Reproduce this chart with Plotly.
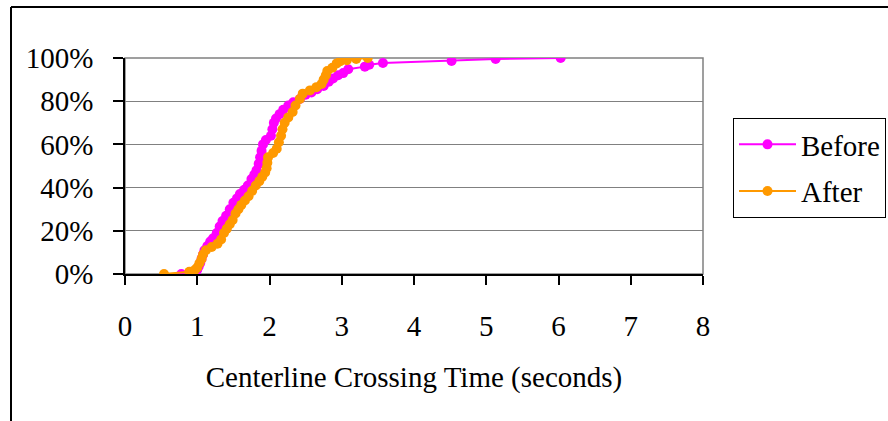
import plotly.graph_objects as go

# Before (magenta): crossing time (s) and cumulative percent
before_time = [0.78, 0.98, 1.0, 1.02, 1.04, 1.06, 1.08, 1.1, 1.14, 1.18, 1.22, 1.27, 1.31, 1.35,
               1.4, 1.45, 1.5, 1.55, 1.59, 1.65, 1.7, 1.75, 1.79, 1.82, 1.85, 1.87, 1.89, 1.91,
               1.95, 2.02, 2.04, 2.06, 2.09, 2.14, 2.19, 2.26, 2.33, 2.42, 2.5, 2.58, 2.66, 2.75,
               2.82, 2.88, 2.95, 3.02, 3.09, 3.32, 3.38, 3.57, 4.52, 5.13, 6.03]
before_pct = [0, 1, 2, 3.5, 5, 7, 9, 11, 13, 15, 16.5, 19, 22, 24.5,
              27, 30, 33, 35, 37, 39, 41, 44, 46, 48, 51, 54, 57, 60,
              62, 64, 67, 70, 72, 74, 76, 78, 79.5, 81, 83, 84, 85.5, 87,
              89, 90.5, 92, 93, 94.8, 96, 96.9, 97.7, 98.6, 99.5, 100]

# After (orange)
after_time = [0.54, 0.89, 0.97, 1.0, 1.03, 1.06, 1.08, 1.12, 1.2, 1.28, 1.33, 1.37, 1.41, 1.45,
              1.49, 1.53, 1.57, 1.61, 1.66, 1.71, 1.76, 1.81, 1.86, 1.9, 1.94, 1.96, 1.97, 1.98,
              2.05, 2.1, 2.13, 2.16, 2.18, 2.21, 2.26, 2.32, 2.36, 2.42, 2.46, 2.56, 2.65, 2.72,
              2.75, 2.78, 2.8, 2.87, 2.93, 2.98, 3.07, 3.2, 3.36]
after_pct = [0, 1, 2, 3, 5, 7, 9, 11, 12.5, 14, 16, 19, 21, 23,
             25, 28, 30, 32, 34, 36, 38.5, 41, 43, 45, 47, 49, 51.5, 54,
             56, 58, 61, 64, 67, 70, 72.5, 75, 78, 81, 83.5, 85, 86.5, 88,
             90, 92, 94, 95.5, 97.5, 98.5, 99, 99.5, 100]

x_ticks = [0, 1, 2, 3, 4, 5, 6, 7, 8]
y_ticks = [0, 20, 40, 60, 80, 100]
y_tick_labels = ["0%", "20%", "40%", "60%", "80%", "100%"]

FONT = "Liberation Serif, Times New Roman, serif"
FS = 29

fig = go.Figure()
fig.add_trace(go.Scatter(x=before_time, y=before_pct, name="Before", mode="lines+markers",
                         line=dict(color="#FF00FF", width=2),
                         marker=dict(color="#FF00FF", size=10), legendgroup="b"))
fig.add_trace(go.Scatter(x=after_time, y=after_pct, name="After", mode="lines+markers",
                         line=dict(color="#FF9900", width=2),
                         marker=dict(color="#FF9900", size=10), legendgroup="a"))

L, R, T, B = 125, 185, 58, 147
W, H = 888, 421
pw, ph = W - L - R, H - T - B

def px(xp):
    return (xp - L) / pw

def py(yp):
    return (H - B - yp) / ph

fig.update_layout(
    width=W, height=H,
    margin=dict(l=L, r=R, t=T, b=B, autoexpand=False),
    paper_bgcolor="white", plot_bgcolor="white",
    font=dict(family=FONT, size=FS, color="black"),
    showlegend=True,
    legend=dict(x=px(733), y=py(118), xanchor="left", yanchor="top",
                bordercolor="black", borderwidth=1, bgcolor="white",
                font=dict(size=FS), traceorder="grouped", tracegroupgap=6,
                itemwidth=57),
    xaxis=dict(range=[0, 8], tickvals=x_ticks, showgrid=False, zeroline=False,
               showline=True, linecolor="black", linewidth=1.5,
               ticks="outside", ticklen=9, tickcolor="black", tickwidth=1.5,
               ticklabelstandoff=16,
               title=dict(text="Centerline Crossing Time (seconds)", standoff=26,
                          font=dict(size=FS)),
               automargin=False, fixedrange=True),
    yaxis=dict(range=[0, 100], tickvals=y_ticks, ticktext=y_tick_labels,
               showgrid=True, gridcolor="#808080", gridwidth=1, zeroline=False,
               showline=True, linecolor="black", linewidth=1.5,
               ticks="outside", ticklen=10, tickcolor="black", tickwidth=1.5,
               ticklabelstandoff=14, automargin=False, fixedrange=True),
    shapes=[
        dict(type="rect", xref="paper", yref="paper", x0=0, y0=0, x1=1, y1=1,
             line=dict(color="#808080", width=1.5), layer="below"),
        dict(type="line", xref="paper", yref="paper", x0=px(11), x1=px(11),
             y0=py(7), y1=py(430), line=dict(color="black", width=2)),
        dict(type="line", xref="paper", yref="paper", x0=px(11), x1=px(900),
             y0=py(7), y1=py(7), line=dict(color="black", width=2)),
    ],
)

fig.write_html("out.html")
